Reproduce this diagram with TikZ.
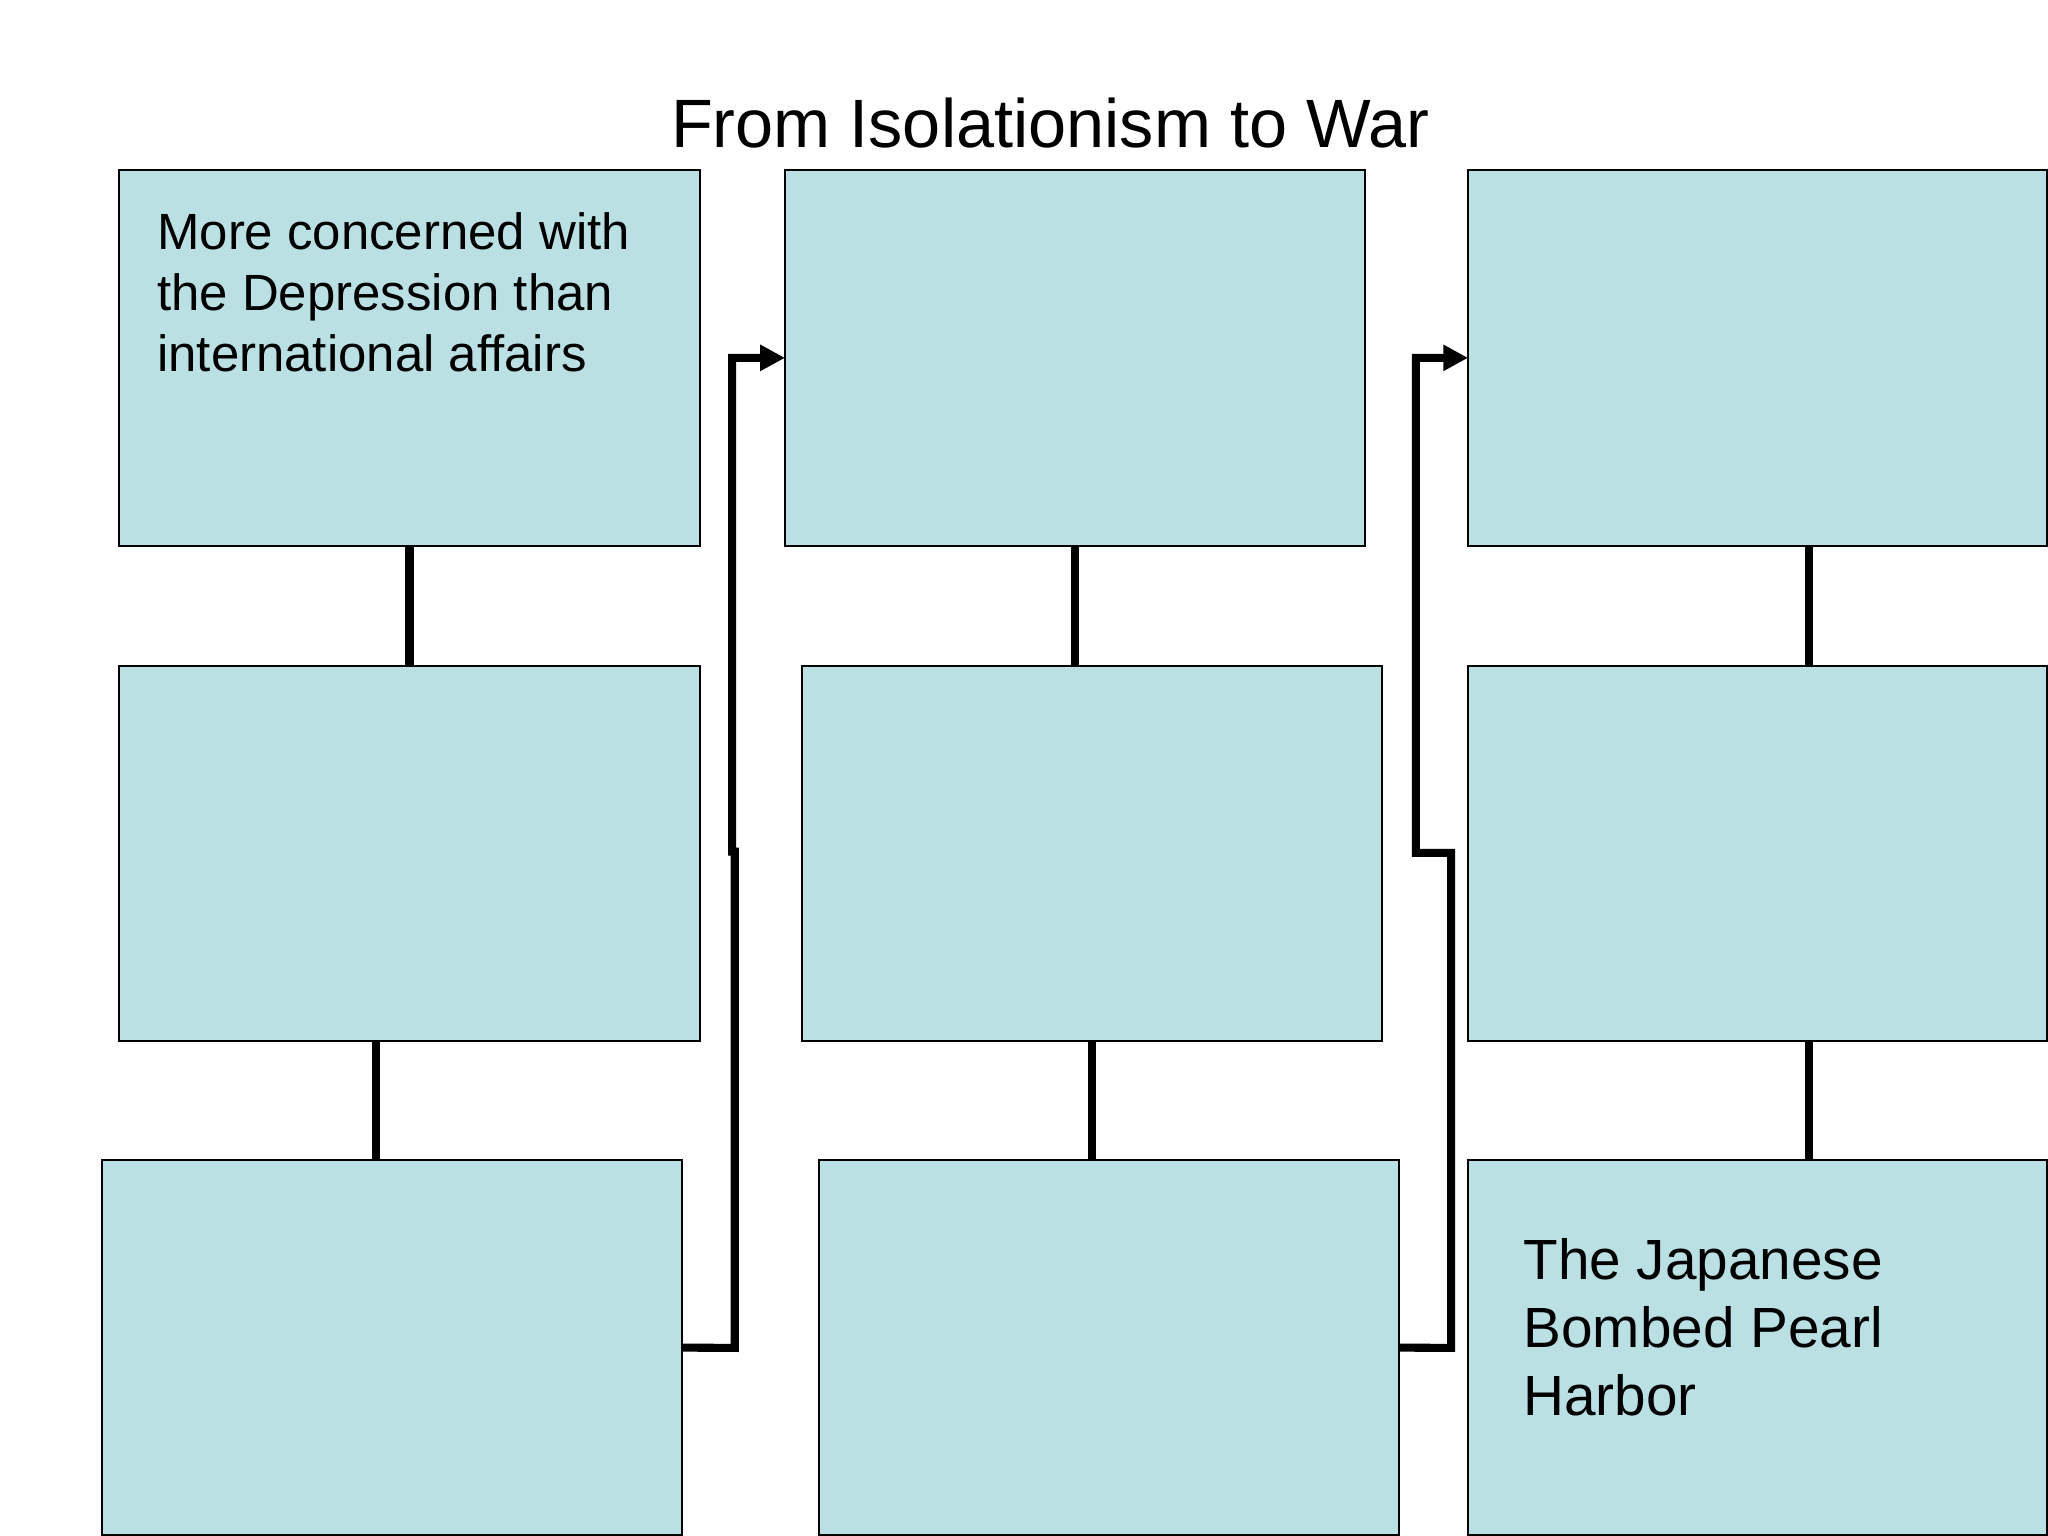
\documentclass[tikz,border=0pt]{standalone}
\usepackage{fontspec}
\setmainfont{Liberation Sans}
\usetikzlibrary{arrows.meta,fit}
\definecolor{boxfill}{RGB}{187,224,227}
\tikzset{
  box/.style={draw=black, line width=0.8pt, fill=boxfill, inner sep=0pt, outer sep=0pt},
  conn/.style={draw=black, line width=3.1pt, line cap=butt, line join=miter},
  arr/.style={-{Triangle[length=9.5pt,width=9.5pt]}},
  boxtext/.style={anchor=north west, inner sep=0pt, align=left}
}
\begin{document}
\begin{tikzpicture}[x=0.5pt,y=-0.5pt]
\path[use as bounding box] (0,0) rectangle (1568,1176);
\fill[white] (0,0) rectangle (1568,1176);
% title
\node[anchor=base, inner sep=0pt, font=\fontsize{26.2pt}{31pt}\selectfont] (title) at (804,113) {From Isolationism to War};
% boxes
\node[box, fit={(91,130) (536,418)}] (A1) {};
\node[box, fit={(601,130) (1045,418)}] (B1) {};
\node[box, fit={(1124,130) (1567,418)}] (C1) {};
\node[box, fit={(91,510) (536,797)}] (A2) {};
\node[box, fit={(614,510) (1058,797)}] (B2) {};
\node[box, fit={(1124,510) (1567,797)}] (C2) {};
\node[box, fit={(78,888) (522,1175.5)}] (A3) {};
\node[box, fit={(627,888) (1071,1175.5)}] (B3) {};
\node[box, fit={(1124,888) (1567,1175.5)}] (C3) {};
% texts
\node[boxtext, font=\fontsize{19.5pt}{23.5pt}\selectfont] (tA1) at (120,162) {More concerned with\\the Depression than\\international affairs};
\node[boxtext, font=\fontsize{21.7pt}{26pt}\selectfont] (tC3) at (1166,948) {The Japanese\\Bombed Pearl\\Harbor};
% vertical connectors
\coordinate (xa) at (288,0);
\coordinate (xc) at (1385,0);
\draw[conn] (A1.south) -- (A2.north);
\draw[conn] (xa |- A2.south) -- (xa |- A3.north);
\draw[conn] (B1.south) -- (B1.south |- B2.north);
\draw[conn] (B2.south) -- (B2.south |- B3.north);
\draw[conn] (xc |- C1.south) -- (xc |- C2.north);
\draw[conn] (xc |- C2.south) -- (xc |- C3.north);
% elbow connectors
\draw[conn, arr] (A3.east) -- (562.5,1032) -- (562.5,652) -- (560.5,652) -- (560.5,274) -- (B1.west);
\draw[conn, arr] (B3.east) -- (1111,1032) -- (1111,653) -- (1084,653) -- (1084,274) -- (C1.west);
\end{tikzpicture}
\end{document}
